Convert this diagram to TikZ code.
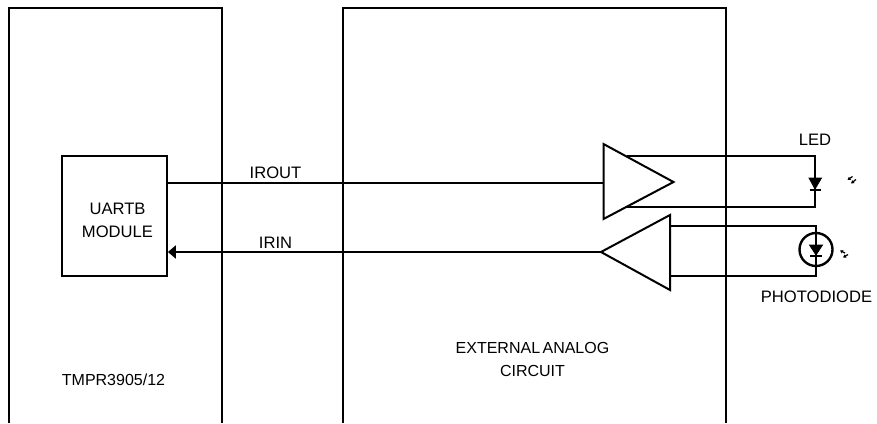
\documentclass[tikz,border=0pt]{standalone}
\usepackage{fontspec}
\setmainfont{Liberation Sans}
\usetikzlibrary{arrows.meta,positioning}

\tikzset{
    lbl/.style={inner sep=0pt, align=center, font=\fontsize{16.6}{23}\selectfont},
    lblsmall/.style={inner sep=0pt, align=center, font=\fontsize{16}{23}\selectfont},
    diode/.style={fill=black, draw=black, line width=0.8pt},
    signal/.style={line width=2.5pt},
    glint/.style={line width=1.2pt, -{Triangle[length=3pt,width=3.5pt]}}
}

\begin{document}
\begin{tikzpicture}[x=1pt, y=-1pt, line width=2pt, line join=miter]
    \useasboundingbox (0,0) rectangle (877,423);
    % blocks, open at the bottom
    \coordinate (L1) at (9,423);
    \coordinate (L2) at (9,8);
    \coordinate (L3) at (222,8);
    \coordinate (L4) at (222,423);
    \coordinate (X1) at (343,423);
    \coordinate (X2) at (343,8);
    \coordinate (X3) at (726,8);
    \coordinate (X4) at (726,423);
    \draw (L1) -- (L2) -- (L3) -- (L4);
    \draw (X1) -- (X2) -- (X3) -- (X4);
    \node[draw, minimum width=105pt, minimum height=120pt, inner sep=0pt, line width=1.8pt] (UART) at (114.5,216) {};
    \node[lbl] (UARTt) at (117.5,220.5) {UARTB\\MODULE};
    \node[lblsmall] (CPU) at (113.5,380) {TMPR3905/12};
    \node[lblsmall] (EXT) at (532.5,359) {EXTERNAL\hspace{-2pt} ANALOG\\CIRCUIT};

    % amplifiers
    \coordinate (A1) at (603.5,144);
    \coordinate (A2) at (603.5,219);
    \coordinate (A3) at (673.5,182);
    \coordinate (B1) at (670,215);
    \coordinate (B2) at (670,290);
    \coordinate (B3) at (601,252);
    \draw (A1) -- (A3) -- (A2) -- cycle;
    \draw (B1) -- (B3) -- (B2) -- cycle;

    % signal lines
    \coordinate (ROUT) at (UART.east |- 0,183);
    \coordinate (RIN) at (UART.east |- 0,252);
    \draw[signal] (ROUT) -- (A1 |- ROUT);
    \draw[signal, -{Triangle[length=8pt,width=13pt]}] (B3) -- (RIN);
    \node[lbl] (IROUT) at (275.5,172.5) {IROUT};
    \node[lbl] (IRIN) at (275.5,242.5) {IRIN};

    % LED loop
    \coordinate (W1) at (627,156);
    \coordinate (W2) at (815,156);
    \coordinate (W3) at (815,207);
    \coordinate (W4) at (627,207);
    \draw (W1) -- (W2) -- (W3) -- (W4);
    \coordinate (D1) at (809,178);
    \coordinate (D2) at (821.5,178);
    \coordinate (D3) at (815,189);
    \coordinate (D4) at (810,190);
    \coordinate (D5) at (821,190);
    \draw[diode] (D1) -- (D2) -- (D3) -- cycle;
    \draw (D4) -- (D5);
    \node[lbl] (LED) at (815,139.5) {LED};

    % photodiode loop
    \coordinate (P1) at (670,226);
    \coordinate (P2) at (816,226);
    \coordinate (P3) at (816,276);
    \coordinate (P4) at (670,276);
    \draw (P1) -- (P2) -- (P3) -- (P4);
    \node[draw, circle, minimum size=33pt, inner sep=0pt, line width=2.4pt] (PD) at (816,249.5) {};
    \coordinate (D6) at (809.5,245);
    \coordinate (D7) at (822.5,245);
    \coordinate (D8) at (816,255);
    \coordinate (D9) at (810,256);
    \coordinate (D10) at (822,256);
    \draw[diode] (D6) -- (D7) -- (D8) -- cycle;
    \draw (D9) -- (D10);
    \node[lbl] (PHOTO) at (816.5,297) {PHOTODIODE};

    % light marks
    \coordinate (G1) at (852.5,176.5);
    \coordinate (G2) at (847.5,180);
    \coordinate (G3) at (856,179.5);
    \coordinate (G4) at (851,183.5);
    \coordinate (G5) at (845,253);
    \coordinate (G6) at (840,250.5);
    \coordinate (G7) at (848,254.5);
    \coordinate (G8) at (843,257.5);
    \draw[glint] (G1) -- (G2);
    \draw[glint] (G3) -- (G4);
    \draw[glint] (G5) -- (G6);
    \draw[glint] (G7) -- (G8);
\end{tikzpicture}
\end{document}
